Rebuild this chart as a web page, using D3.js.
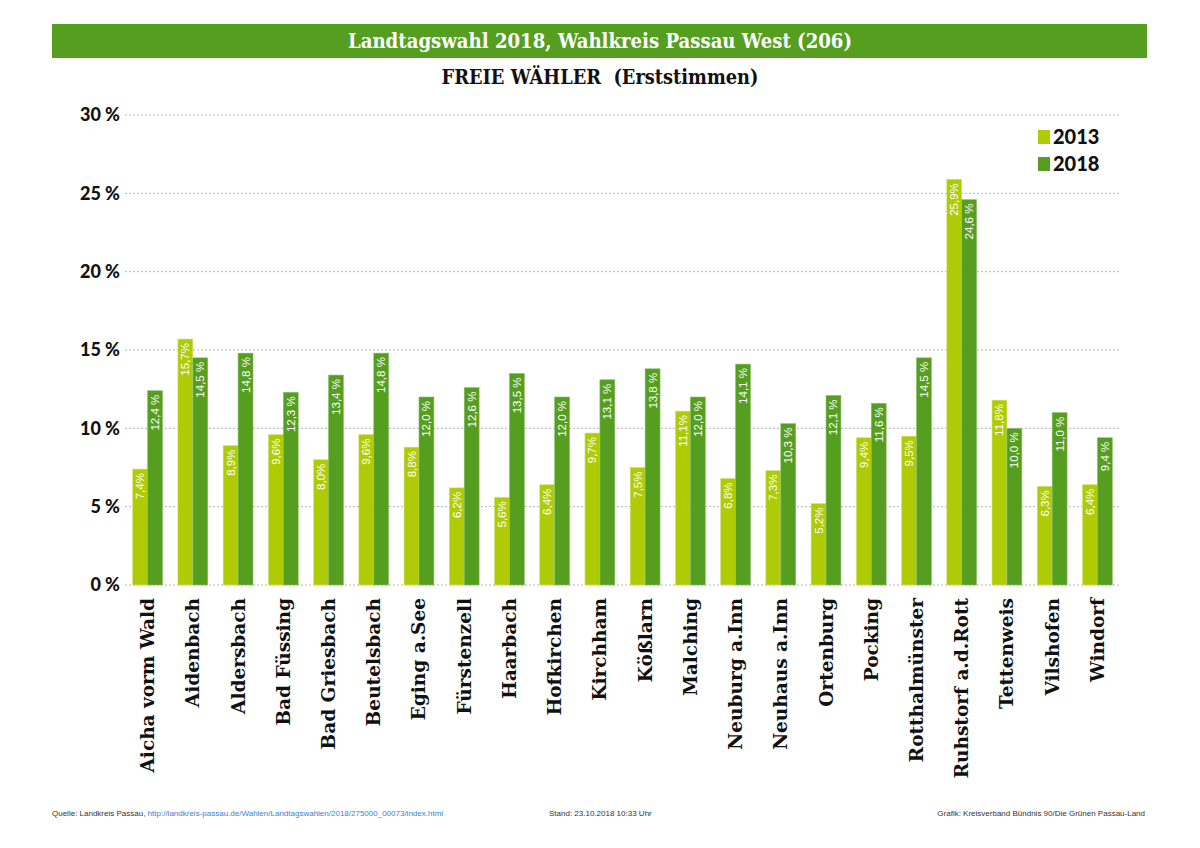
<!DOCTYPE html>
<html lang="de">
<head>
    <meta charset="UTF-8">
    <title>Landtagswahl 2018, Wahlkreis Passau West</title>
    <style>
        body { margin: 0; background: #fff; }
        svg { display: block; }
    </style>
</head>
<body>
    <div id="wrapper"></div>
    <script src="https://d3js.org/d3.v7.min.js"></script>
    <script>
        // Gemeinden
        const gemeinden = ['Aicha vorm Wald', 'Aidenbach', 'Aldersbach', 'Bad Füssing', 'Bad Griesbach',
            'Beutelsbach', 'Eging a.See', 'Fürstenzell', 'Haarbach', 'Hofkirchen', 'Kirchham', 'Kößlarn',
            'Malching', 'Neuburg a.Inn', 'Neuhaus a.Inn', 'Ortenburg', 'Pocking', 'Rotthalmünster',
            'Ruhstorf a.d.Rott', 'Tettenweis', 'Vilshofen', 'Windorf'];

        // Erststimmen FREIE WÄHLER in %
        const werte2013 = [7.4, 15.7, 8.9, 9.6, 8.0, 9.6, 8.8, 6.2, 5.6, 6.4, 9.7, 7.5,
            11.1, 6.8, 7.3, 5.2, 9.4, 9.5, 25.9, 11.8, 6.3, 6.4];
        const werte2018 = [12.4, 14.5, 14.8, 12.3, 13.4, 14.8, 12.0, 12.6, 13.5, 12.0, 13.1, 13.8,
            12.0, 14.1, 10.3, 12.1, 11.6, 14.5, 24.6, 10.0, 11.0, 9.4];

        const jahre = ['2013', '2018'];
        const yTicks = [0, 5, 10, 15, 20, 25, 30];

        const width = 1200;
        const height = 848;
        const farben = { '2013': '#afcb05', '2018': '#559e1f' };

        // Ränder der Zeichenfläche
        const padding = { top: 115, bottom: 263, left: 125, right: 80 };

        const svg = d3.select('#wrapper').append('svg')
            .attr('width', width)
            .attr('height', height);

        // Titelbalken
        svg.append('rect')
            .attr('x', 52).attr('y', 24)
            .attr('width', 1095).attr('height', 34)
            .attr('fill', '#559e1f');

        svg.append('text')
            .attr('x', 600).attr('y', 48)
            .attr('text-anchor', 'middle')
            .attr('fill', '#fff')
            .attr('font-family', 'DejaVu Serif')
            .attr('font-weight', 'bold')
            .attr('font-size', '20px')
            .attr('textLength', 504)
            .attr('lengthAdjust', 'spacingAndGlyphs')
            .text('Landtagswahl 2018, Wahlkreis Passau West (206)');

        svg.append('text')
            .attr('x', 600).attr('y', 84)
            .attr('text-anchor', 'middle')
            .attr('fill', '#111')
            .attr('font-family', 'DejaVu Serif')
            .attr('font-weight', 'bold')
            .attr('font-size', '20px')
            .attr('textLength', 317)
            .attr('lengthAdjust', 'spacingAndGlyphs')
            .attr('xml:space', 'preserve')
            .text('FREIE WÄHLER  (Erststimmen)');

        // Skalen
        const x0 = d3.scaleBand()
            .domain(gemeinden)
            .range([padding.left, width - padding.right])
            .paddingInner(0.34)
            .paddingOuter(0.17);

        const x1 = d3.scaleBand()
            .domain(jahre)
            .range([0, x0.bandwidth()]);

        const y = d3.scaleLinear()
            .domain([0, 30])
            .range([height - padding.bottom, padding.top]);

        // Gitterlinien
        svg.append('g')
            .selectAll('line')
            .data(yTicks)
            .enter()
            .append('line')
            .attr('x1', padding.left)
            .attr('x2', width - padding.right)
            .attr('y1', d => y(d))
            .attr('y2', d => y(d))
            .attr('stroke', '#b5b5b5')
            .attr('stroke-width', 1)
            .attr('stroke-dasharray', '2,2');

        // y-Achse
        const yAxis = d3.axisLeft(y)
            .tickValues(yTicks)
            .tickSize(0)
            .tickPadding(5)
            .tickFormat(d => d + ' %');

        svg.append('g')
            .attr('transform', 'translate(' + padding.left + ',0)')
            .call(yAxis)
            .call(g => g.select('.domain').remove())
            .selectAll('text')
            .attr('fill', '#111')
            .attr('font-family', 'Lato')
            .attr('font-weight', 900)
            .attr('font-size', '18px');

        // Balken
        const daten = gemeinden.map((g, i) => ({
            gemeinde: g,
            werte: [
                { jahr: '2013', wert: werte2013[i] },
                { jahr: '2018', wert: werte2018[i] }
            ]
        }));

        const gruppen = svg.append('g')
            .selectAll('g')
            .data(daten)
            .enter()
            .append('g')
            .attr('transform', d => 'translate(' + x0(d.gemeinde) + ',0)');

        gruppen.selectAll('rect')
            .data(d => d.werte)
            .enter()
            .append('rect')
            .attr('x', d => x1(d.jahr))
            .attr('y', d => y(d.wert))
            .attr('width', x1.bandwidth())
            .attr('height', d => y(0) - y(d.wert))
            .attr('fill', d => farben[d.jahr])
            .attr('stroke', d => d.jahr === '2013' ? '#d3e37a' : '#8cc06a')
            .attr('stroke-width', 0.6);

        // Werte in den Balken
        gruppen.selectAll('text')
            .data(d => d.werte)
            .enter()
            .append('text')
            .attr('transform', d => 'translate(' + (x1(d.jahr) + x1.bandwidth() / 2 + 4) + ',' + (y(d.wert) + 4) + ') rotate(-90)')
            .attr('text-anchor', 'end')
            .attr('fill', '#fff')
            .attr('font-family', 'Liberation Sans Narrow, Liberation Sans, sans-serif')
            .attr('font-size', '11.5px')
            .text(d => d3.format('.1f')(d.wert).replace('.', ',') + (d.jahr === '2018' ? ' %' : '%'));

        // Gemeindenamen
        const xAxis = d3.axisBottom(x0).tickSize(0).tickPadding(0);

        svg.append('g')
            .attr('transform', 'translate(0,' + y(0) + ')')
            .call(xAxis)
            .call(g => g.select('.domain').remove())
            .selectAll('text')
            .attr('transform', 'rotate(-90)')
            .attr('text-anchor', 'end')
            .attr('x', -13)
            .attr('y', 0)
            .attr('dy', '0.35em')
            .attr('fill', '#111')
            .attr('font-family', 'DejaVu Serif')
            .attr('font-weight', 'bold')
            .attr('font-size', '18.5px');

        // Legende
        const legende = svg.append('g')
            .selectAll('g')
            .data(jahre)
            .enter()
            .append('g')
            .attr('transform', (d, i) => 'translate(1038,' + (130 + i * 27) + ')');

        legende.append('rect')
            .attr('width', 12)
            .attr('height', 14)
            .attr('fill', d => farben[d]);

        legende.append('text')
            .attr('x', 15)
            .attr('y', 14)
            .attr('fill', '#111')
            .attr('font-family', 'Lato')
            .attr('font-weight', 900)
            .attr('font-size', '20px')
            .text(d => d);

        // Fußzeile
        const fuss = svg.append('text')
            .attr('x', 52).attr('y', 816)
            .attr('font-family', 'Liberation Sans Narrow, Liberation Sans, sans-serif')
            .attr('font-size', '8px')
            .attr('fill', '#333');
        fuss.append('tspan').text('Quelle: Landkreis Passau, ');
        fuss.append('tspan').attr('fill', '#3a7fd5')
            .text('http://landkreis-passau.de/Wahlen/Landtagswahlen/2018/275000_00073/index.html');

        svg.append('text')
            .attr('x', 549).attr('y', 816)
            .attr('font-family', 'Liberation Sans Narrow, Liberation Sans, sans-serif')
            .attr('font-size', '8px')
            .attr('fill', '#333')
            .text('Stand: 23.10.2018 10:33 Uhr');

        svg.append('text')
            .attr('x', 1145).attr('y', 816)
            .attr('text-anchor', 'end')
            .attr('font-family', 'Liberation Sans Narrow, Liberation Sans, sans-serif')
            .attr('font-size', '8px')
            .attr('fill', '#333')
            .text('Grafik: Kreisverband Bündnis 90/Die Grünen Passau-Land');
    </script>
</body>
</html>
